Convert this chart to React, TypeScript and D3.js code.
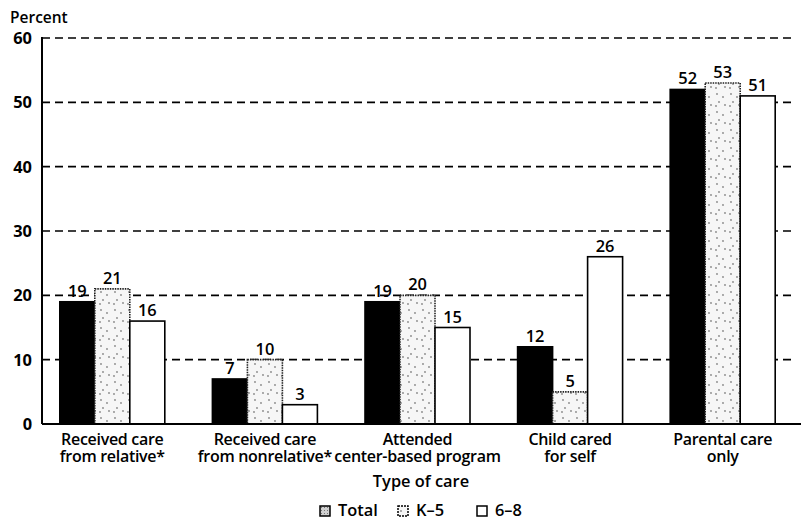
import { useEffect, useRef } from "react";
import * as d3 from "d3";

const categories = [
  "Received care|from relative*",
  "Received care|from nonrelative*",
  "Attended|center-based program",
  "Child cared|for self",
  "Parental care|only",
];
const seriesNames = ["Total", "K–5", "6–8"];
const totalValues = [19, 7, 19, 12, 52];
const k5Values = [21, 10, 20, 5, 53];
const g68Values = [16, 3, 15, 26, 51];
const yTicks = [0, 10, 20, 30, 40, 50, 60];

const W = 801;
const H = 520;
const FONT = "'Open Sans', 'Noto Sans', sans-serif";
const FS = 16.4;

export default function App() {
  const svgRef = useRef<SVGSVGElement>(null);

  useEffect(() => {
    if (!svgRef.current) return;
    const svg = d3.select(svgRef.current);
    svg.selectAll("*").remove();

    const left = 42;
    const top = 38;
    const bottom = 424;

    const y = d3.scaleLinear().domain([0, 60]).range([bottom, top]);
    const x0 = d3.scaleBand<string>().domain(categories).range([36, 799]).padding(0);
    const groupW = 105;
    const x1 = d3.scaleBand<string>().domain(seriesNames).range([0, groupW]);

    const defs = svg.append("defs");
    const pat = defs
      .append("pattern")
      .attr("id", "stipple")
      .attr("patternUnits", "userSpaceOnUse")
      .attr("width", 14)
      .attr("height", 18);
    pat.append("rect").attr("width", 14).attr("height", 18).attr("fill", "#f6f6f6");
    [[3, 4], [9, 7], [5, 12], [11, 15], [2, 16]].forEach(([cx, cy]) => {
      pat.append("circle").attr("cx", cx).attr("cy", cy).attr("r", 0.9).attr("fill", "#888");
    });
    const pat2 = defs
      .append("pattern")
      .attr("id", "hatch")
      .attr("patternUnits", "userSpaceOnUse")
      .attr("width", 3)
      .attr("height", 3);
    pat2.append("rect").attr("width", 3).attr("height", 3).attr("fill", "#d0d0d0");
    pat2.append("rect").attr("width", 1).attr("height", 1).attr("fill", "#777");

    // gridlines
    svg
      .append("g")
      .selectAll("line")
      .data(yTicks.filter((t) => t > 0))
      .join("line")
      .attr("x1", left)
      .attr("x2", 796)
      .attr("y1", (d) => y(d))
      .attr("y2", (d) => y(d))
      .attr("stroke", "#000")
      .attr("stroke-width", 1.6)
      .attr("stroke-dasharray", "8,5");

    // y tick labels
    svg
      .append("g")
      .selectAll("text")
      .data(yTicks)
      .join("text")
      .attr("x", 32)
      .attr("y", (d) => y(d) + 6)
      .attr("text-anchor", "end")
      .attr("font-family", FONT)
      .attr("font-weight", 700)
      .attr("font-size", FS)
      .text((d) => d);

    svg
      .append("text")
      .attr("x", 10)
      .attr("y", 23)
      .attr("font-family", FONT)
      .attr("font-weight", 600)
      .attr("font-size", 15.5)
      .text("Percent");

    const series = [
      { name: seriesNames[0], values: totalValues, fill: "#000", stroke: "#000", dash: null },
      { name: seriesNames[1], values: k5Values, fill: "url(#stipple)", stroke: "#222", dash: "1.5,1" },
      { name: seriesNames[2], values: g68Values, fill: "#fff", stroke: "#000", dash: null },
    ];

    const bars = categories.flatMap((c, i) =>
      series.map((s) => ({ cat: c, name: s.name, v: s.values[i], s }))
    );

    const bx = (d: { cat: string; name: string }) =>
      (x0(d.cat) ?? 0) + (x0.bandwidth() - groupW) / 2 + (x1(d.name) ?? 0);

    svg
      .append("g")
      .selectAll("rect")
      .data(bars)
      .join("rect")
      .attr("x", (d) => bx(d))
      .attr("y", (d) => y(d.v))
      .attr("width", x1.bandwidth())
      .attr("height", (d) => bottom - y(d.v))
      .attr("fill", (d) => d.s.fill)
      .attr("stroke", (d) => d.s.stroke)
      .attr("stroke-width", 1.6)
      .attr("stroke-dasharray", (d) => d.s.dash);

    svg
      .append("g")
      .selectAll("text")
      .data(bars)
      .join("text")
      .attr("x", (d) => bx(d) + x1.bandwidth() / 2)
      .attr("y", (d) => y(d.v) - 5)
      .attr("text-anchor", "middle")
      .attr("font-family", FONT)
      .attr("font-weight", 600)
      .attr("font-size", FS)
      .text((d) => d.v);

    // axes
    svg
      .append("line")
      .attr("x1", left)
      .attr("x2", left)
      .attr("y1", top - 1)
      .attr("y2", bottom)
      .attr("stroke", "#000")
      .attr("stroke-width", 2);
    svg
      .append("line")
      .attr("x1", left)
      .attr("x2", 801)
      .attr("y1", bottom)
      .attr("y2", bottom)
      .attr("stroke", "#000")
      .attr("stroke-width", 2);

    // category labels, one text per line
    const cl = svg.append("g");
    categories.forEach((c) => {
      const cx = (x0(c) ?? 0) + x0.bandwidth() / 2;
      c.split("|").forEach((line, j) => {
        cl.append("text")
          .attr("x", cx)
          .attr("y", 445 + j * 17)
          .attr("text-anchor", "middle")
          .attr("font-family", FONT)
          .attr("font-weight", 600)
          .attr("font-size", 16)
          .attr("letter-spacing", -0.3)
          .text(line);
      });
    });

    svg
      .append("text")
      .attr("x", 421)
      .attr("y", 487)
      .attr("text-anchor", "middle")
      .attr("font-family", FONT)
      .attr("font-weight", 600)
      .attr("font-size", FS)
      .text("Type of care");

    // legend
    const legendX = [320, 398, 477];
    const legendFill = ["url(#hatch)", "url(#stipple)", "#fff"];
    const lg = svg.append("g");
    series.forEach((s, i) => {
      lg.append("rect")
        .attr("x", legendX[i])
        .attr("y", 506)
        .attr("width", 10)
        .attr("height", 10)
        .attr("fill", legendFill[i])
        .attr("stroke", "#000")
        .attr("stroke-width", 1.5)
        .attr("stroke-dasharray", i === 1 ? "2,1" : null);
      lg.append("text")
        .attr("x", legendX[i] + 18)
        .attr("y", 516)
        .attr("font-family", FONT)
        .attr("font-weight", 600)
        .attr("font-size", FS)
        .text(s.name);
    });
  }, []);

  return (
    <svg
      ref={svgRef}
      width={W}
      height={H}
      style={{ position: "absolute", left: 0, top: 0, background: "#fff" }}
    />
  );
}
